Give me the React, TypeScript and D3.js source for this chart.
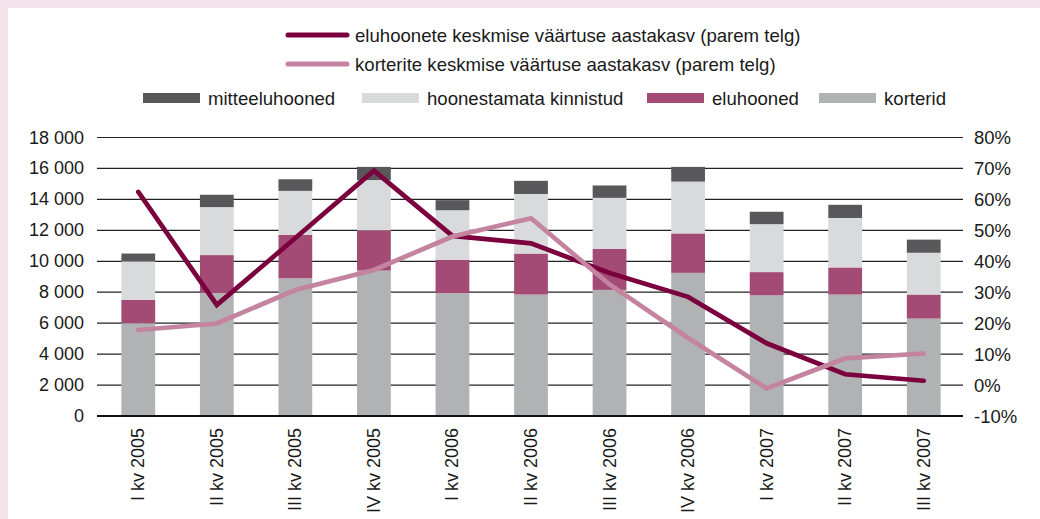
import React, { useEffect, useRef } from 'react';
import * as d3 from 'd3';

const categories = [
  'I kv 2005', 'II kv 2005', 'III kv 2005', 'IV kv 2005',
  'I kv 2006', 'II kv 2006', 'III kv 2006', 'IV kv 2006',
  'I kv 2007', 'II kv 2007', 'III kv 2007',
];

// stacked bars (left axis)
const korterid = [6000, 7950, 8900, 9400, 7950, 7850, 8150, 9250, 7800, 7850, 6300];
const eluhooned = [1500, 2450, 2800, 2600, 2150, 2650, 2650, 2550, 1500, 1750, 1550];
const hoonestamata = [2500, 3100, 2850, 3250, 3200, 3850, 3300, 3350, 3100, 3200, 2700];
const mitteeluhooned = [500, 800, 750, 850, 650, 850, 800, 950, 800, 850, 850];

// growth lines (right axis, %)
const eluhooneteKasv = [62.4, 25.9, 47.5, 69.3, 48.2, 45.8, 36.2, 28.5, 13.5, 3.5, 1.4];
const korteriteKasv = [17.8, 19.9, 30.7, 37.2, 48.0, 53.9, 32.5, 15.2, -1.1, 8.6, 10.2];

const leftTicks = [0, 2000, 4000, 6000, 8000, 10000, 12000, 14000, 16000, 18000];
const rightTicks = [-10, 0, 10, 20, 30, 40, 50, 60, 70, 80];

const W = 1040;
const H = 519;
const FONT = 'Liberation Sans, Arial, Helvetica, sans-serif';

const App: React.FC = () => {
  const svgRef = useRef<SVGSVGElement>(null);

  useEffect(() => {
    if (!svgRef.current) return;
    const svg = d3.select(svgRef.current);
    svg.selectAll('*').remove();

    // background
    svg.append('rect').attr('width', W).attr('height', H).attr('fill', '#f2e4ea');
    svg.append('rect').attr('x', 8).attr('y', 8).attr('width', W - 8).attr('height', H - 8).attr('fill', '#fff');

    const x = d3.scaleBand<string>().domain(categories).range([99, 963]).paddingInner(0.57).paddingOuter(0.285);
    const yL = d3.scaleLinear().domain([0, 18000]).range([416, 137.5]);
    const yR = d3.scaleLinear().domain([-10, 80]).range([416, 137.5]);

    const g = svg.append('g');

    // gridlines
    leftTicks.forEach(t => {
      g.append('line')
        .attr('x1', 97).attr('x2', 963)
        .attr('y1', yL(t)).attr('y2', yL(t))
        .attr('stroke', t === 0 ? '#111' : '#222')
        .attr('stroke-width', t === 0 ? 2.2 : 1.2);
    });

    // left tick labels
    leftTicks.forEach(t => {
      g.append('text')
        .attr('x', 84).attr('y', yL(t))
        .attr('text-anchor', 'end').attr('dominant-baseline', 'central')
        .attr('font-family', FONT).attr('font-size', 18).attr('fill', '#1a1a1a')
        .text(d3.format(',')(t).replace(/,/g, ' '));
    });

    // right tick labels
    rightTicks.forEach(t => {
      g.append('text')
        .attr('x', 974).attr('y', yR(t))
        .attr('dominant-baseline', 'central')
        .attr('font-family', FONT).attr('font-size', 18.5).attr('fill', '#1a1a1a')
        .text(`${t}%`);
    });

    // stacked bars
    const series = [
      { values: korterid, color: '#b1b2b4' },
      { values: eluhooned, color: '#a34b75' },
      { values: hoonestamata, color: '#d9dadb' },
      { values: mitteeluhooned, color: '#58585a' },
    ];
    categories.forEach((c, i) => {
      let base = 0;
      series.forEach(s => {
        const top = base + s.values[i];
        g.append('rect')
          .attr('x', x(c)!).attr('width', x.bandwidth())
          .attr('y', yL(top)).attr('height', yL(base) - yL(top))
          .attr('fill', s.color);
        base = top;
      });
    });

    // redraw zero line above bars
    g.append('line')
      .attr('x1', 97).attr('x2', 963)
      .attr('y1', yL(0)).attr('y2', yL(0))
      .attr('stroke', '#111').attr('stroke-width', 2.2);

    // lines
    const line = d3.line<number>()
      .x((_, i) => x(categories[i])! + x.bandwidth() / 2)
      .y(d => yR(d));
    [
      { values: eluhooneteKasv, color: '#7b003e' },
      { values: korteriteKasv, color: '#c4849f' },
    ].forEach(s => {
      g.append('path')
        .attr('d', line(s.values))
        .attr('fill', 'none')
        .attr('stroke', s.color)
        .attr('stroke-width', 4.7)
        .attr('stroke-linecap', 'round');
    });

    // x labels
    categories.forEach(c => {
      const cx = x(c)! + x.bandwidth() / 2;
      g.append('text')
        .attr('transform', `translate(${cx},428) rotate(-90)`)
        .attr('text-anchor', 'end').attr('dominant-baseline', 'central')
        .attr('font-family', FONT).attr('font-size', 18).attr('fill', '#1a1a1a')
        .text(c);
    });

    // legend
    const lg = svg.append('g');
    [
      { label: 'eluhoonete keskmise väärtuse aastakasv (parem telg)', color: '#7b003e', y: 35 },
      { label: 'korterite keskmise väärtuse aastakasv (parem telg)', color: '#c4849f', y: 64 },
    ].forEach(l => {
      lg.append('line')
        .attr('x1', 288).attr('x2', 347).attr('y1', l.y).attr('y2', l.y)
        .attr('stroke', l.color).attr('stroke-width', 5).attr('stroke-linecap', 'round');
      lg.append('text')
        .attr('x', 355).attr('y', l.y).attr('dominant-baseline', 'central')
        .attr('font-family', FONT).attr('font-size', 18.6).attr('fill', '#1a1a1a')
        .text(l.label);
    });
    [
      { label: 'mitteeluhooned', color: '#58585a', x: 143 },
      { label: 'hoonestamata kinnistud', color: '#d9dadb', x: 362 },
      { label: 'eluhooned', color: '#a34b75', x: 647 },
      { label: 'korterid', color: '#b1b2b4', x: 819 },
    ].forEach(l => {
      lg.append('rect')
        .attr('x', l.x).attr('y', 93).attr('width', 57).attr('height', 10)
        .attr('fill', l.color);
      lg.append('text')
        .attr('x', l.x + 65).attr('y', 98).attr('dominant-baseline', 'central')
        .attr('font-family', FONT).attr('font-size', 18.6).attr('fill', '#1a1a1a')
        .text(l.label);
    });
  }, []);

  return (
    <svg
      ref={svgRef}
      width={W}
      height={H}
      style={{ position: 'absolute', left: 0, top: 0, display: 'block' }}
    />
  );
};

export default App;
